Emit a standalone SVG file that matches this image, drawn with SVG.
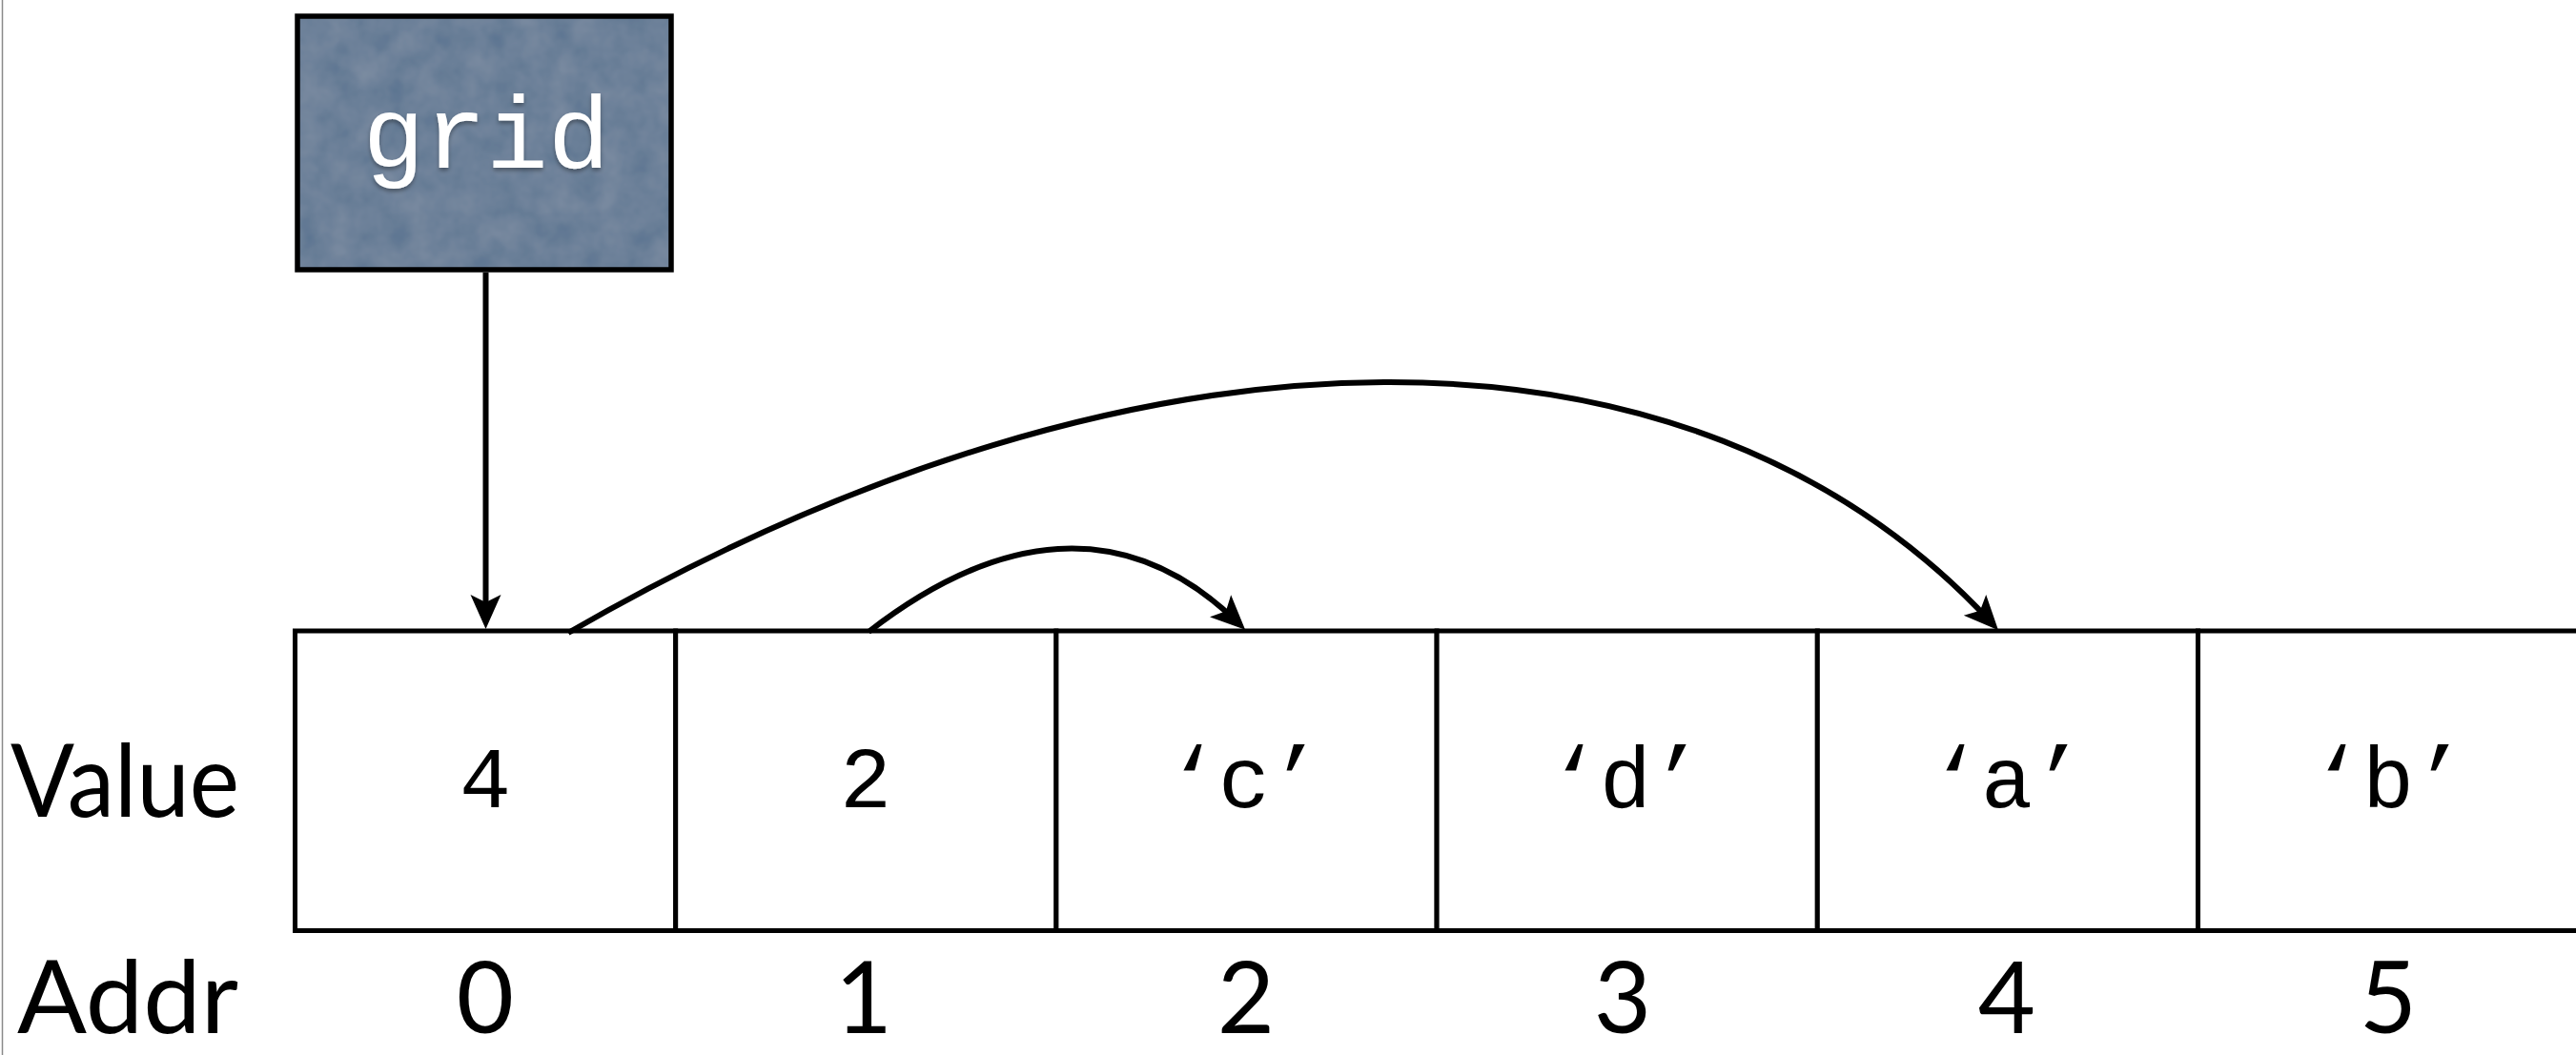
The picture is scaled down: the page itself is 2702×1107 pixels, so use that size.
<svg xmlns="http://www.w3.org/2000/svg" width="2702" height="1107" viewBox="0 0 2702 1107">
  <style>
    .cell { fill: #ffffff; stroke: #000000; stroke-width: 5; }
    .val { font-family: "Liberation Mono", "Courier New", monospace; font-size: 90px; fill: #000000; text-anchor: middle; }
    .addr { font-family: Lato, "Open Sans", sans-serif; font-size: 104px; fill: #000000; text-anchor: middle; }
    .lbl { font-family: Lato, "Open Sans", sans-serif; font-size: 107px; fill: #000000; }
    .conn { fill: none; stroke: #000000; stroke-width: 6; }
  </style>
  <defs>
    <marker id="arrow" markerUnits="userSpaceOnUse" viewBox="-38 -18 40 36" refX="-14" refY="0" markerWidth="40" markerHeight="36" orient="auto">
      <path d="M0,0 L-36,-16 L-28,0 L-36,16 Z" fill="#000000"/>
    </marker>
    <filter id="shadow" x="-20%" y="-20%" width="140%" height="140%">
      <feDropShadow dx="0" dy="3" stdDeviation="2" flood-color="#000000" flood-opacity="0.35"/>
    </filter>
    <filter id="texture" x="0" y="0" width="100%" height="100%">
      <feTurbulence type="fractalNoise" baseFrequency="0.035" numOctaves="3" seed="4" result="noise"/>
      <feColorMatrix in="noise" type="matrix" values="0 0 0 0 1  0 0 0 0 1  0 0 0 0 1  0 0 0 0.12 0" result="speck"/>
      <feComposite in="speck" in2="SourceGraphic" operator="atop"/>
    </filter>
  </defs>
  <rect x="0" y="0" width="2702" height="1107" fill="#ffffff"/>
  <line x1="2.5" y1="0" x2="2.5" y2="1107" stroke="#8a8a8a" stroke-width="1.5"/>

  <g id="grid">
    <rect x="312" y="17" width="392" height="266" fill="#58728f" filter="url(#texture)"/>
    <rect x="312" y="17" width="392" height="266" fill="none" stroke="#000000" stroke-width="5.5"/>
    <text x="510" y="176" font-family="Liberation Mono, Courier New, monospace" font-size="108" fill="#ffffff" text-anchor="middle" filter="url(#shadow)">grid</text>
  </g>

  <g id="label-value">
    <text class="lbl" x="11" y="857" textLength="240" lengthAdjust="spacingAndGlyphs">Value</text>
  </g>
  <g id="label-addr">
    <text class="lbl" x="18" y="1084" font-size="104" textLength="232" lengthAdjust="spacingAndGlyphs">Addr</text>
  </g>

  <g id="cell0">
    <rect class="cell" x="309.5" y="662" width="399.2" height="314.5"/>
    <text class="val" x="509" y="847">4</text>
    <text class="addr" x="509" y="1084">0</text>
  </g>
  <g id="cell1">
    <rect class="cell" x="708.7" y="662" width="399.2" height="314.5"/>
    <text class="val" x="908" y="847">2</text>
    <text class="addr" x="906" y="1084">1</text>
  </g>
  <g id="cell2">
    <rect class="cell" x="1107.9" y="662" width="399.2" height="314.5"/>
    <text class="val" x="1305" y="847">‘c’</text>
    <text class="addr" x="1307" y="1084">2</text>
  </g>
  <g id="cell3">
    <rect class="cell" x="1507.1" y="662" width="399.2" height="314.5"/>
    <text class="val" x="1705" y="847">‘d’</text>
    <text class="addr" x="1702" y="1084">3</text>
  </g>
  <g id="cell4">
    <rect class="cell" x="1906.3" y="662" width="399.2" height="314.5"/>
    <text class="val" x="2105" y="847">‘a’</text>
    <text class="addr" x="2105" y="1084">4</text>
  </g>
  <g id="cell5">
    <rect class="cell" x="2305.5" y="662" width="399.2" height="314.5"/>
    <text class="val" x="2505" y="847">‘b’</text>
    <text class="addr" x="2505" y="1084">5</text>
  </g>

  <g id="connectors">
    <path class="conn" d="M509.5,286 L509.5,646" marker-end="url(#arrow)"/>
    <path class="conn" d="M911,663 C1045,559 1179,539 1296,651" marker-end="url(#arrow)"/>
    <path class="conn" d="M596,664 C1202,314 1775.5,317 2086.5,651" marker-end="url(#arrow)"/>
  </g>
</svg>
